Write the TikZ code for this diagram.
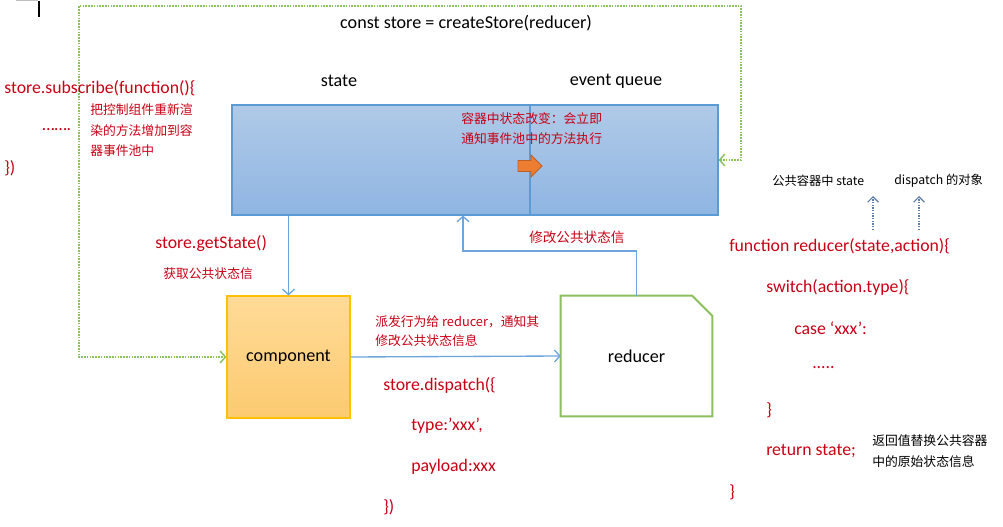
\documentclass[tikz,border=0pt]{standalone}
\usepackage{fontspec}
\setmainfont{Carlito}
\newfontfamily\cjk{Noto Sans CJK SC}
\usetikzlibrary{arrows.meta}
\definecolor{codered}{RGB}{200,0,20}
\definecolor{boxblue}{RGB}{91,155,213}
\definecolor{conblue}{RGB}{110,165,220}
\definecolor{gdot}{RGB}{140,195,95}
\definecolor{compbd}{RGB}{255,192,0}
\definecolor{redgreen}{RGB}{140,190,95}
\definecolor{orng}{RGB}{237,125,49}
\definecolor{orngbd}{RGB}{190,95,40}
\definecolor{steel}{RGB}{95,125,165}
\begin{document}
\begin{tikzpicture}[x=0.75pt,y=-0.75pt,
  code/.style={anchor=west,inner sep=0pt,text=codered,font=\fontsize{13.3}{15}\selectfont},
  blk/.style={inner sep=0pt,text=black,font=\fontsize{13.6}{15}\selectfont},
  note/.style={anchor=west,inner sep=0pt,text=codered,font=\cjk\fontsize{9.6}{11}\selectfont},
  bnote/.style={anchor=west,inner sep=0pt,text=black,font=\cjk\fontsize{9.2}{11}\selectfont},
  conn/.style={draw=conblue,line width=1pt,-{Straight Barb[length=4pt,width=9pt]}},
  gd/.style={draw=gdot,line width=1.1pt,dash pattern=on 1.2pt off 0.9pt},
  sdot/.style={draw=steel,line width=0.9pt,dash pattern=on 1pt off 1pt,-{Straight Barb[length=4pt,width=8pt]}}]
\useasboundingbox (0,0) rectangle (1003,527);
% cursor artefacts
\draw[gray!50,line width=1pt] (16,0.5) -- (38,0.5);
\draw[black,line width=1.5pt] (39,1) -- (39,17);

% store box
\node (store) at (475,160) [draw=boxblue,line width=0.8pt,top color={rgb,255:red,176;green,202;blue,232},bottom color={rgb,255:red,143;green,181;blue,226},minimum width=486*0.75pt,minimum height=110*0.75pt,inner sep=0pt] {};
\coordinate (div) at (530,0);
\draw[boxblue,line width=0.8pt] (store.north -| div) -- (store.south -| div);
% orange arrow
\filldraw[fill=orng,draw=orngbd,line width=0.6pt] (518,160.5) -- (531,160.5) -- (531,155) -- (542,166) -- (531,177) -- (531,171.5) -- (518,171.5) -- cycle;
\node[note] (n1) at (461,119) {容器中状态改变：会立即};
\node[note] (n2) at (461,139) {通知事件池中的方法执行};

\node[blk] (title) at (466,23) {const store = createStore(reducer)};
\node[blk] (lstate) at (339,81) {state};
\node[blk] (lqueue) at (616,81) {event queue};

% component
\node (component) at (288.5,357) [draw=compbd,line width=0.9pt,top color={rgb,255:red,255;green,219;blue,152},bottom color={rgb,255:red,252;green,202;blue,112},minimum width=123*0.75pt,minimum height=122*0.75pt,inner sep=0pt,font=\fontsize{13.6}{15}\selectfont] {component};

% reducer
\node (reducer) at (636.5,356) [minimum width=151*0.75pt,minimum height=120*0.75pt,inner sep=0pt,font=\fontsize{13.6}{15}\selectfont] {reducer};
\draw[redgreen,line width=1.5pt] (reducer.north west) -- ([xshift=-20*0.75pt]reducer.north east) -- ([yshift=-20*0.75pt]reducer.north east) -- (reducer.south east) -- (reducer.south west) -- cycle;

% connectors
\draw[conn] (component.north |- store.south) -- (component.north);
\coordinate (upc) at (463,251);
\draw[conn] (reducer.north) |- (upc) -- (upc |- store.south);
\draw[conn] (component.east) -- (reducer.west);
\coordinate (g1) at (741,6);
\coordinate (g2) at (79,6);
\draw[gd,{Straight Barb[length=4pt,width=9pt]}-{Straight Barb[length=4pt,width=9pt]}] (store.east) -- (store.east -| g1) -- (g1) -- (g2) -- (g2 |- component.west) -- (component.west);

% labels around connectors
\node[code] (gs) at (155,244) {store.getState()};
\node[note] (gsn) at (163,274) {获取公共状态信};
\node[note,font=\cjk\fontsize{10.2}{11}\selectfont] (mod) at (529,237) {修改公共状态信};
\node[note] (dn1) at (375,322) {派发行为给 reducer，通知其};
\node[note] (dn2) at (375,341) {修改公共状态信息};
\node[code] (d1) at (383,385) {store.dispatch(\{};
\node[code] (d2) at (411,426) {type:’xxx’,};
\node[code] (d3) at (411,467) {payload:xxx};
\node[code] (d4) at (383,507) {\})};

% left subscribe
\node[code] (s1) at (4,88) {store.subscribe(function()\{};
\node[code] (s2) at (42,130) {…….};
\node[code] (s3) at (4,168) {\})};
\node[note] (sn1) at (90,110) {把控制组件重新渲};
\node[note] (sn2) at (90,131) {染的方法增加到容};
\node[note] (sn3) at (90,151) {器事件池中};

% right reducer code
\node[bnote] (rl1) at (772,181) {公共容器中 state};
\node[bnote] (rl2) at (894,181) {dispatch 的对象};
\coordinate (a1s) at (873,230); \coordinate (a1e) at (873,196);
\coordinate (a2s) at (919,230); \coordinate (a2e) at (919,196);
\draw[sdot] (a1s) -- (a1e);
\draw[sdot] (a2s) -- (a2e);
\node[code] (r1) at (729,246) {function reducer(state,action)\{};
\node[code] (r2) at (766,287) {switch(action.type)\{};
\node[code] (r3) at (794,328) {case ‘xxx’:};
\node[code] (r4) at (812,368) {.....};
\node[code] (r5) at (766,410) {\}};
\node[code] (r6) at (766,451) {return state;};
\node[code] (r7) at (729,492) {\}};
\node[bnote,font=\cjk\fontsize{9.6}{11}\selectfont] (rn1) at (872,441) {返回值替换公共容器};
\node[bnote,font=\cjk\fontsize{9.6}{11}\selectfont] (rn2) at (872,462) {中的原始状态信息};
\end{tikzpicture}
\end{document}
